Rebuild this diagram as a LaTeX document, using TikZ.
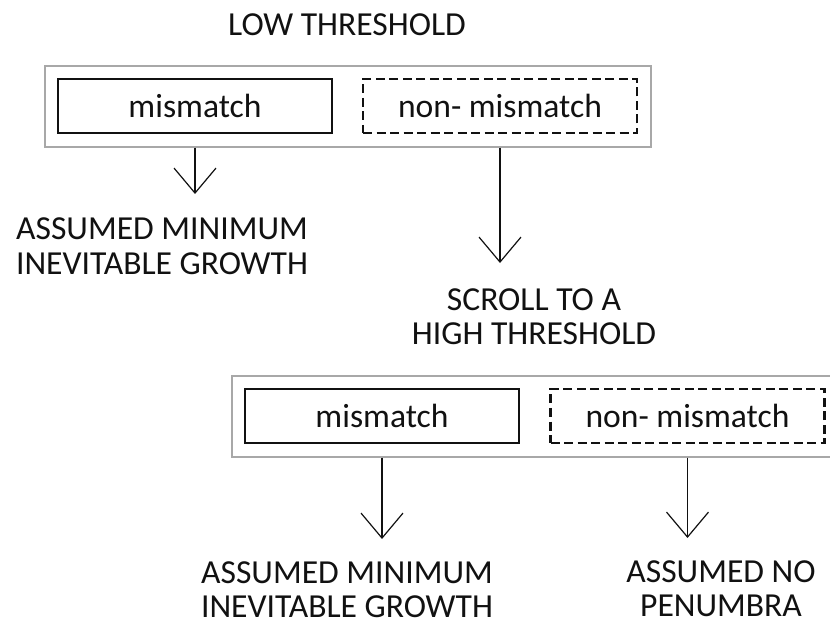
\documentclass[tikz,border=0pt]{standalone}
\usepackage{fontspec}
\setmainfont{Carlito}
\usetikzlibrary{arrows.meta}
\definecolor{ink}{HTML}{111111}
\definecolor{panelgray}{HTML}{A8A8A8}
\begin{document}
\begin{tikzpicture}[x=1bp,y=-1bp,
  lbl/.style={font=\fontsize{33.6bp}{34bp}\selectfont, text=ink, align=center, anchor=base, inner sep=0pt, text depth=0pt},
  panel/.style={draw=panelgray, line width=1.4bp, minimum width=#1, minimum height=81bp, inner sep=0pt},
  choice/.style={font=\fontsize{33.6bp}{34bp}\selectfont, text=ink, minimum width=274bp, minimum height=54bp,
     inner sep=0pt, text height=23bp, text depth=0bp},
  solidbox/.style={choice, draw=ink, line width=2.6bp},
  dashbox/.style={choice, draw=ink, line width=2.2bp, dash pattern=on 9bp off 4.5bp},
  arr/.style={draw=ink, line width=1.2bp, -{Straight Barb[length=25bp,width=42bp,line width=1.2bp]}}
]
\useasboundingbox (0,0) rectangle (830,622);
\clip (0,0) rectangle (830,622);

% title
\node[lbl] (title) at (347,36) {LOW THRESHOLD};

% top panel
\node[panel=606bp] (p1) at (348,106.5) {};
\node[solidbox] (m1) at (195,106) {mismatch};
\node[dashbox] (n1) at (500,106) {non- mismatch};

\coordinate (tip1) at (195,194);
\coordinate (tip2) at (500,263);
\draw[arr] (m1.south |- p1.south) -- (tip1);
\draw[arr] (n1.south |- p1.south) -- (tip2);

% anchor=base of a two-line label is the baseline of its last line
\node[lbl] (growth1) at (162,274) {ASSUMED MINIMUM\\INEVITABLE GROWTH};
\node[lbl] (scroll) at (534,344) {SCROLL TO A\\HIGH THRESHOLD};

% bottom panel
\node[panel=606bp] (p2) at (535,416.5) {};
\node[solidbox] (m2) at (382,416) {mismatch};
\node[dashbox] (n2) at (687.5,416) {non- mismatch};

\coordinate (tip3) at (382,539);
\coordinate (tip4) at (687.5,538);
\draw[arr] (m2.south |- p2.south) -- (tip3);
\draw[arr] (n2.south |- p2.south) -- (tip4);

\node[lbl] (growth2) at (347,617) {ASSUMED MINIMUM\\INEVITABLE GROWTH};
\node[lbl] (penumbra) at (721,616) {ASSUMED NO\\PENUMBRA};
\end{tikzpicture}
\end{document}
